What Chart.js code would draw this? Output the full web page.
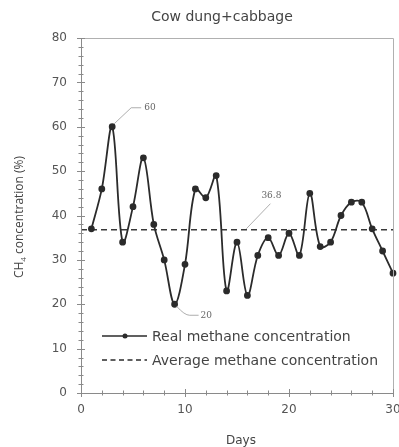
<!DOCTYPE html>
<html>
<head>
<meta charset="utf-8">
<script src="https://cdn.jsdelivr.net/npm/chart.js@4.4.0/dist/chart.umd.min.js"></script>
<style>
    body { margin: 0; background: #fff; }
    #wrap { width: 399px; height: 447px; position: relative; }
</style>
</head>
<body>
<div id="wrap"><canvas id="chart"></canvas></div>
<script>
    // data
    let days = [1, 2, 3, 4, 5, 6, 7, 8, 9, 10, 11, 12, 13, 14, 15, 16, 17, 18, 19, 20, 21, 22, 23, 24, 25, 26, 27, 28, 29, 30];
    let methane = [37, 46, 60, 34, 42, 53, 38, 30, 20, 29, 46, 44, 49, 23, 34, 22, 31, 35, 31, 36, 31, 45, 33, 34, 40, 43, 43, 37, 32, 27];
    let avgMethane = 36.8;
    let avgRange = [0, 30];
    let xTicks = [0, 10, 20, 30];
    let yTicks = [0, 10, 20, 30, 40, 50, 60, 70, 80];
    let seriesNames = ['Real methane concentration', 'Average methane concentration'];

    const lineColor = '#2b2b2b';
    const axisColor = '#8a8a8a';
    const textColor = '#555';

    // axes, ticks, labels, notes and legend drawn by hand on top of the scales
    const decorPlugin = {
        id: 'decor',
        afterDraw(chart) {
            const ctx = chart.ctx;
            const xs = chart.scales.x;
            const ys = chart.scales.y;
            const a = chart.chartArea;
            ctx.save();

            // frame
            ctx.strokeStyle = '#b0b0b0';
            ctx.lineWidth = 1;
            ctx.beginPath();
            ctx.moveTo(a.left, a.top + 0.5);
            ctx.lineTo(a.right + 0.5, a.top + 0.5);
            ctx.lineTo(a.right + 0.5, a.bottom);
            ctx.stroke();
            ctx.strokeStyle = axisColor;
            ctx.beginPath();
            ctx.moveTo(a.left + 0.5, a.top);
            ctx.lineTo(a.left + 0.5, a.bottom + 0.5);
            ctx.lineTo(a.right, a.bottom + 0.5);
            ctx.stroke();

            // cross ticks, minor every 2
            ctx.beginPath();
            for (let v = 0; v <= 80; v += 2) {
                let py = Math.round(ys.getPixelForValue(v)) + 0.5;
                let len = v % 10 == 0 ? 4 : 2.5;
                ctx.moveTo(a.left - len, py);
                ctx.lineTo(a.left + len, py);
            }
            for (let v = 0; v <= 30; v += 2) {
                let px = Math.round(xs.getPixelForValue(v)) + 0.5;
                let len = v % 10 == 0 ? 4 : 2.5;
                ctx.moveTo(px, a.bottom - len);
                ctx.lineTo(px, a.bottom + len);
            }
            ctx.stroke();

            // tick labels
            ctx.fillStyle = textColor;
            ctx.font = '12px "DejaVu Sans"';
            ctx.textAlign = 'right';
            ctx.textBaseline = 'middle';
            yTicks.forEach(function(v) {
                ctx.fillText(String(v), a.left - 14, ys.getPixelForValue(v));
            });
            ctx.textAlign = 'center';
            xTicks.forEach(function(v) {
                ctx.fillText(String(v), xs.getPixelForValue(v), a.bottom + 17);
            });

            // titles
            ctx.font = '14px "DejaVu Sans"';
            ctx.fillStyle = '#444';
            ctx.fillText('Cow dung+cabbage', 222, 17);
            ctx.font = '12px "DejaVu Sans"';
            ctx.fillText('Days', 241, 441);

            ctx.save();
            ctx.translate(20, 217);
            ctx.rotate(-Math.PI / 2);
            ctx.font = '12px "Open Sans"';
            let t1 = 'CH', t2 = '4', t3 = ' concentration (%)';
            let w1 = ctx.measureText(t1).width;
            let w3 = ctx.measureText(t3).width;
            ctx.font = '8px "Open Sans"';
            let w2 = ctx.measureText(t2).width;
            let start = -(w1 + w2 + w3) / 2;
            ctx.textAlign = 'left';
            ctx.font = '12px "Open Sans"';
            ctx.fillText(t1, start, 0);
            ctx.fillText(t3, start + w1 + w2, 0);
            ctx.font = '8px "Open Sans"';
            ctx.fillText(t2, start + w1, 4);
            ctx.restore();

            // value notes with leader lines
            ctx.strokeStyle = '#999';
            ctx.lineWidth = 0.8;
            ctx.font = '9px "DejaVu Serif"';
            ctx.fillStyle = '#666';
            ctx.textAlign = 'left';
            let maxI = methane.indexOf(Math.max(...methane));
            let minI = methane.indexOf(Math.min(...methane));
            let px = xs.getPixelForValue(days[maxI]);
            let py = ys.getPixelForValue(methane[maxI]);
            ctx.beginPath();
            ctx.moveTo(px + 2, py - 3);
            ctx.lineTo(px + 19, py - 19);
            ctx.lineTo(px + 29, py - 19);
            ctx.stroke();
            ctx.fillText(String(methane[maxI]), px + 32, py - 19);

            px = xs.getPixelForValue(days[minI]);
            py = ys.getPixelForValue(methane[minI]);
            ctx.beginPath();
            ctx.moveTo(px + 2, py + 2);
            ctx.quadraticCurveTo(px + 10, py + 11, px + 15, py + 11);
            ctx.lineTo(px + 24, py + 11);
            ctx.stroke();
            ctx.fillText(String(methane[minI]), px + 26, py + 11);

            px = xs.getPixelForValue(16);
            py = ys.getPixelForValue(avgMethane);
            ctx.beginPath();
            ctx.moveTo(px - 1, py - 1);
            ctx.lineTo(px + 23, py - 26);
            ctx.stroke();
            ctx.textAlign = 'center';
            ctx.fillText(String(avgMethane), px + 24, py - 34);

            // legend inside the plot
            let lx = a.left + 21, ly = a.bottom - 57;
            ctx.strokeStyle = lineColor;
            ctx.lineWidth = 1.6;
            ctx.beginPath();
            ctx.moveTo(lx, ly);
            ctx.lineTo(lx + 45, ly);
            ctx.stroke();
            ctx.fillStyle = lineColor;
            ctx.beginPath();
            ctx.arc(lx + 23, ly, 2.5, 0, Math.PI * 2);
            ctx.fill();
            ctx.setLineDash([5, 3.5]);
            ctx.lineWidth = 1.4;
            ctx.beginPath();
            ctx.moveTo(lx, ly + 24);
            ctx.lineTo(lx + 45, ly + 24);
            ctx.stroke();
            ctx.setLineDash([]);
            ctx.fillStyle = '#444';
            ctx.font = '14px "DejaVu Sans"';
            ctx.textAlign = 'left';
            ctx.fillText(seriesNames[0], lx + 50, ly + 1);
            ctx.fillText(seriesNames[1], lx + 50, ly + 25);

            ctx.restore();
        }
    };

    const ctxChart = document.getElementById('chart').getContext('2d');
    const chart = new Chart(ctxChart, {
        type: 'line',
        data: {
            datasets: [
                {
                    label: seriesNames[0],
                    data: days.map(function(d, i) { return { x: d, y: methane[i] }; }),
                    borderColor: lineColor,
                    backgroundColor: lineColor,
                    borderWidth: 1.8,
                    pointRadius: 2.5,
                    pointHoverRadius: 2.5,
                    tension: 0.35,
                    clip: false
                },
                {
                    label: seriesNames[1],
                    data: avgRange.map(function(d) { return { x: d, y: avgMethane }; }),
                    borderColor: '#3a3a3a',
                    borderWidth: 1.4,
                    borderDash: [6, 4],
                    pointRadius: 0,
                    clip: false
                }
            ]
        },
        options: {
            responsive: true,
            maintainAspectRatio: false,
            animation: false,
            layout: { padding: { left: 81, right: 6, top: 38, bottom: 54 } },
            scales: {
                x: { type: 'linear', min: 0, max: 30, display: false },
                y: { min: 0, max: 80, display: false }
            },
            plugins: {
                legend: { display: false },
                tooltip: { enabled: false }
            }
        },
        plugins: [decorPlugin]
    });
</script>
</body>
</html>
